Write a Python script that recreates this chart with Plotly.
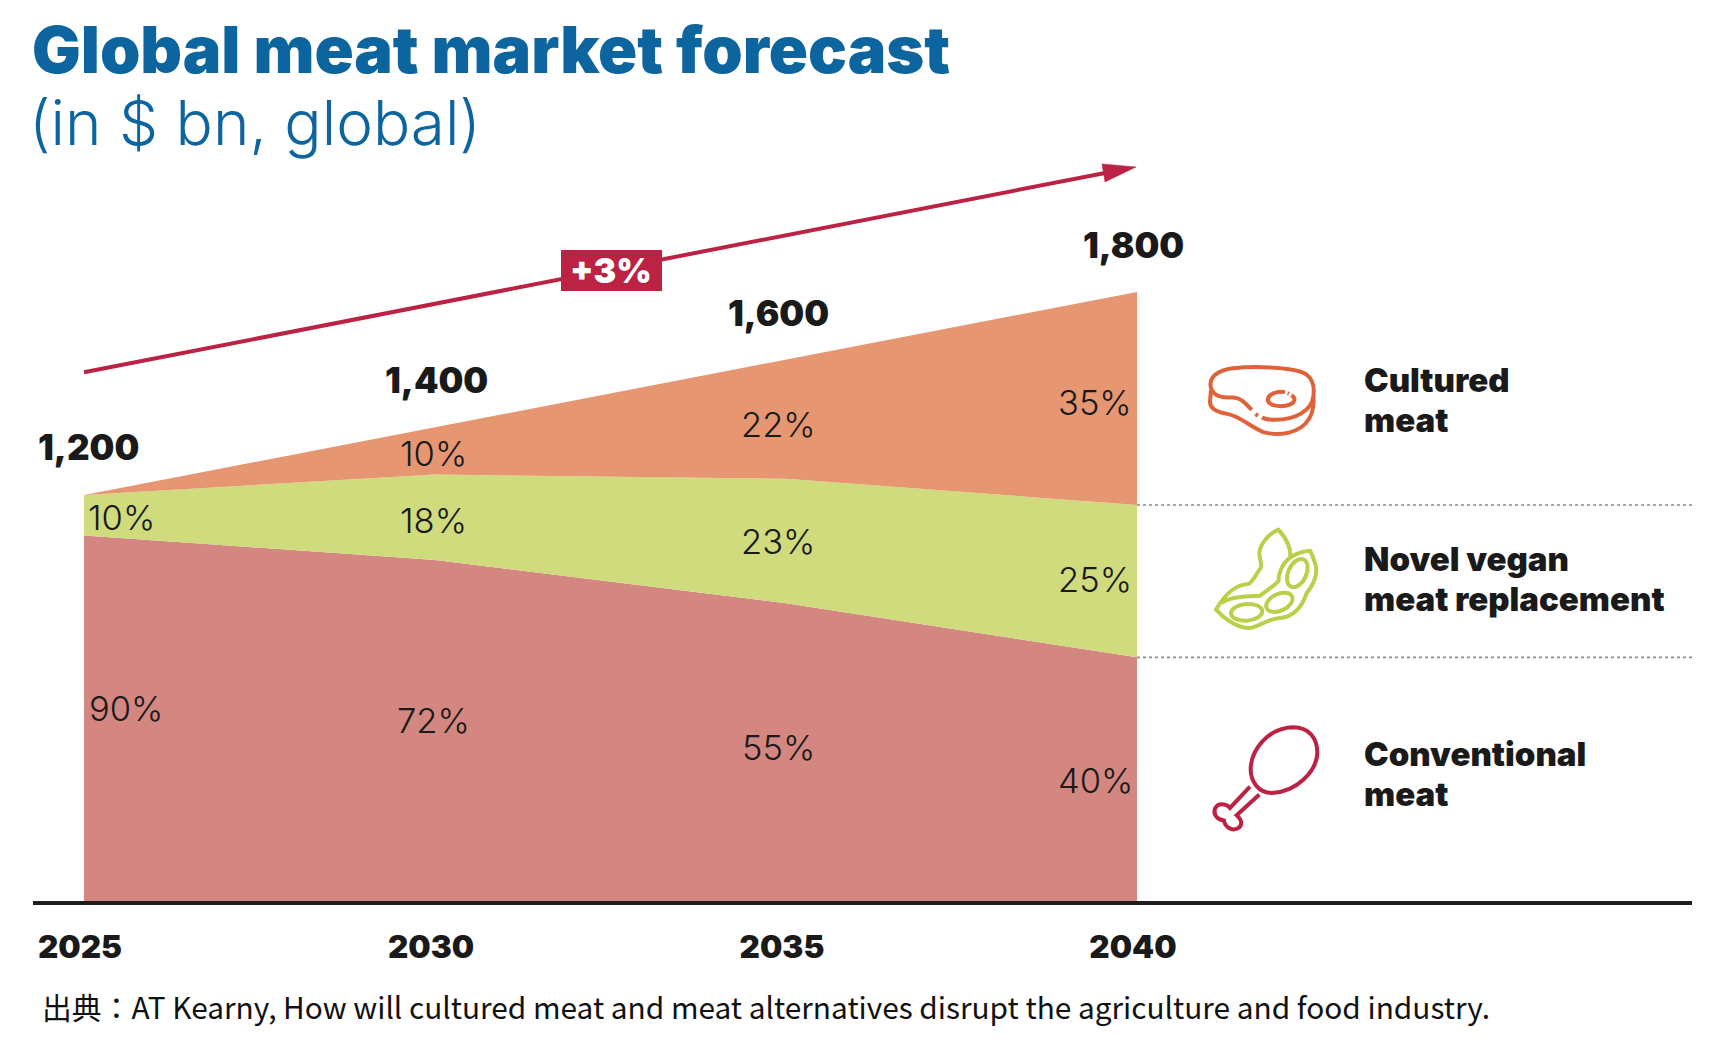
import re, math
import plotly.graph_objects as go

YEARS = [2025, 2030, 2035, 2040]
TOTALS = [1200, 1400, 1600, 1800]
CONVENTIONAL = [1080, 1008, 880, 720]
VEGAN = [120, 252, 368, 450]
CULTURED = [0, 140, 352, 630]
PCT_CONVENTIONAL = [90, 72, 55, 40]
PCT_VEGAN = [10, 18, 23, 25]
PCT_CULTURED = [None, 10, 22, 35]
TITLE = "Global meat market forecast"
SUBTITLE = "(in $ bn, global)"
SOURCE = "出典：AT Kearny, How will cultured meat and meat alternatives disrupt the agriculture and food industry."
GROWTH = "+3%"

W, H = 1732, 1040
L, R, T, B = 33, 1692, 100, 901.5
XPX = 1053 / 15
YPX = (B - 292) / 1800
X_RANGE = [2025 - (84 - L) / XPX, 2040 + (R - 1137) / XPX]
Y_RANGE = [0, (B - T) / YPX]

RED = "#BC2243"; BLUE = "#0D659F"; INK = "#1A1A1A"
HEAVY = "Inter"

def px(x): return (x - L) / (R - L)
def py(y): return 1 - (y - T) / (B - T)

def to_paper(path, ox=0, oy=0, s=1.0):
    nums = iter(re.findall(r"[A-Za-z]|-?\d+\.?\d*", path))
    out = []; idx = 0
    for tok in nums:
        if tok.isalpha():
            out.append(tok); idx = 0
        else:
            v = float(tok)
            if idx % 2 == 0:
                out.append(f"{px(ox + v * s):.5f}")
            else:
                out.append(f"{py(oy + v * s):.5f}")
            idx += 1
    return " ".join(out)

def ellipse(cx, cy, rx, ry, deg):
    k = 0.5523; a = math.radians(deg)
    def p(u, v):
        return f"{cx + u * math.cos(a) - v * math.sin(a):.2f},{cy + u * math.sin(a) + v * math.cos(a):.2f}"
    return (f"M{p(rx,0)} C{p(rx,k*ry)} {p(k*rx,ry)} {p(0,ry)} C{p(-k*rx,ry)} {p(-rx,k*ry)} {p(-rx,0)} "
            f"C{p(-rx,-k*ry)} {p(-k*rx,-ry)} {p(0,-ry)} C{p(k*rx,-ry)} {p(rx,-k*ry)} {p(rx,0)} Z")

fig = go.Figure()
for name, vals, color in [("Conventional meat", CONVENTIONAL, "#D48681"),
                          ("Novel vegan meat replacement", VEGAN, "#CFDB7D"),
                          ("Cultured meat", CULTURED, "#E79672")]:
    fig.add_trace(go.Scatter(x=YEARS, y=vals, name=name, stackgroup="one", mode="lines",
                             line=dict(width=0, color=color), fillcolor=color, hoverinfo="skip"))

shapes = []
for yv in (CONVENTIONAL[-1], CONVENTIONAL[-1] + VEGAN[-1]):
    shapes.append(dict(type="line", xref="x", yref="y", x0=YEARS[-1], x1=X_RANGE[1], y0=yv, y1=yv,
                       line=dict(color="#8A8A8A", width=1.6, dash="3px,3px")))
shapes.append(dict(type="path", xref="paper", yref="paper", path=to_paper("M84,372.5 L1105,173"),
                   line=dict(color=RED, width=4)))
shapes.append(dict(type="path", xref="paper", yref="paper", path=to_paper("M1102,164 L1136,167 L1105,182 Z"),
                   fillcolor=RED, line=dict(color=RED, width=0.5)))
shapes.append(dict(type="rect", xref="paper", yref="paper", x0=px(561), x1=px(662), y0=py(291), y1=py(250),
                   fillcolor=RED, line=dict(width=0)))

def icon(paths, ox, oy, color, width):
    for p in paths:
        shapes.append(dict(type="path", xref="paper", yref="paper", path=to_paper(p, ox, oy, 1 / 3),
                           line=dict(color=color, width=width)))

icon(["M155,165 C135,145 125,130 100,128 C75,128 45,130 33,100 C25,70 50,45 100,40 C170,33 260,38 300,50 "
      "C335,60 345,90 340,125 C335,165 290,195 225,195 C205,195 195,193 186,188",
      "M33,105 L30,140 C30,165 55,172 85,178 C120,185 150,215 190,232 C240,245 300,235 325,195 C340,175 342,140 340,125",
      "M166,178 L174,183",
      "M255,112 C230,108 205,118 203,135 C205,152 235,157 260,152 C285,147 290,130 274,121",
      "M263,115 L267,117"], 1200, 355, "#E0623A", 4)
icon(["M270,115 C275,90 260,55 235,30 C210,40 180,70 178,100 C178,125 190,135 180,148 C170,160 160,185 145,193 "
      "C110,195 80,215 48,270 C70,295 110,325 150,325 C180,320 195,300 240,295 C290,290 310,250 320,220 "
      "C345,190 355,155 345,130 C340,115 335,100 330,93 C300,95 280,105 265,118 C245,135 235,165 235,185 "
      "C215,205 195,215 180,228 C130,232 90,230 65,250",
      ellipse(140, 278, 47, 25, -5), ellipse(238, 248, 42, 25, -25), ellipse(292, 160, 27, 45, 25)],
     1200, 520, "#BBD04A", 4)
icon(["M152,165 C152,110 200,40 280,38 C330,38 352,75 352,115 C350,170 290,232 215,235 C175,235 152,200 152,165 Z",
      "M150,216 L90,280 C80,268 55,262 45,282 C38,300 52,315 72,318 C75,338 95,350 112,342 C128,335 128,318 110,302 L178,240"],
     1200, 715, "#BC2243", 4)

ann = []
def text(x, y, s, size, color=INK, weight=400, family="Inter", anchor="center"):
    ann.append(dict(xref="paper", yref="paper", x=px(x), y=py(y), text=s, showarrow=False,
                    xanchor=anchor, yanchor="middle", align="left",
                    font=dict(size=size, color=color, family=family, weight=weight)))

text(30, 49, TITLE, 64.7, color=BLUE, weight=900, family=HEAVY, anchor="left")
text(27, 123, SUBTITLE, 62, color=BLUE, weight=300, family="Inter", anchor="left")
shifts = [(4, 48), (1, 47), (-8, 47), (-4, 47)]
for yr, tot, (dx, dy) in zip(YEARS, TOTALS, shifts):
    ann.append(dict(x=yr, y=tot, xref="x", yref="y", text=f"{tot:,}", showarrow=False, xshift=dx, yshift=dy,
                    xanchor="center", yanchor="middle", font=dict(size=35, color=INK, family=HEAVY, weight=900)))
PCT_POS = {
    "conv": [(126, 709), (433, 721), (778, 748), (1095, 781)],
    "veg": [(121, 518), (433, 521), (778, 542), (1095, 580)],
    "cult": [None, (433, 454), (778, 425), (1095, 403)],
}
for key, pcts in (("conv", PCT_CONVENTIONAL), ("veg", PCT_VEGAN), ("cult", PCT_CULTURED)):
    for pos, p in zip(PCT_POS[key], pcts):
        if p is not None:
            text(pos[0], pos[1], f"{p}%", 34.5, weight=300, family="Inter")
text(611, 271, GROWTH, 34, color="white", weight=900)
for (y1, y2), (a, b) in zip([(380, 420), (559, 599), (754.5, 794)],
                            [("Cultured", "meat"), ("Novel vegan", "meat replacement"), ("Conventional", "meat")]):
    text(1362, y1, a, 33, weight=900, anchor="left")
    text(1362, y2, b, 33, weight=900, anchor="left")
text(40, 1007, SOURCE, 29.8, color="#111111", family="Noto Sans CJK JP", anchor="left")

fig.update_layout(
    width=W, height=H, autosize=False, showlegend=False,
    margin=dict(l=L, r=W - R, t=T, b=H - B, pad=0),
    paper_bgcolor="white", plot_bgcolor="white",
    shapes=shapes, annotations=ann,
    xaxis=dict(range=X_RANGE, showgrid=False, zeroline=False, showline=True, linecolor="#1E1E1E", linewidth=3.5,
               tickmode="array", tickvals=YEARS, ticktext=[str(y) for y in YEARS], ticks="", layer="above traces",
               tickfont=dict(size=31.5, color=INK, family=HEAVY, weight=900), ticklabelstandoff=15, ticklabelshift=-4),
    yaxis=dict(range=Y_RANGE, visible=False, showgrid=False, zeroline=False),
)
fig.write_html("out.html", config=dict(displayModeBar=False),
               post_script="document.body.style.margin='0';document.documentElement.style.overflow='hidden';")
